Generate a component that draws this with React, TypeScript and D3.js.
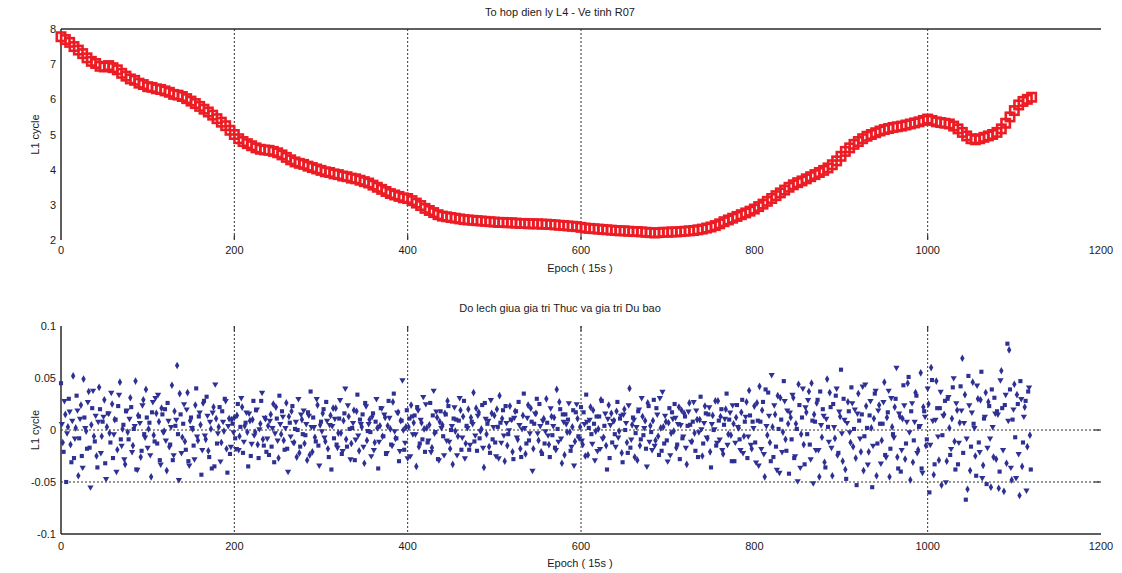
import React from 'react';
import * as d3 from 'd3';

const W = 1122, H = 573;
const xTicks = [0, 200, 400, 600, 800, 1000, 1200];
const gridEpochs = [200, 400, 600, 1000];
const topYTicks = [2, 3, 4, 5, 6, 7, 8];
const botYTicks = [-0.1, -0.05, 0, 0.05, 0.1];
const botHLines = [0, -0.05];
const topTitle = 'To hop dien ly L4 - Ve tinh R07';
const botTitle = 'Do lech giua gia tri Thuc va gia tri Du bao';
const xLabel = 'Epoch ( 15s )';
const yLabel = 'L1 cycle';

// L4 combination, one value every 5 epochs from 0 to 1120
const topStep = 5;
const topValues = [
  7.78, 7.70, 7.62, 7.50, 7.40, 7.30, 7.18, 7.08, 7.02, 6.94, 6.92, 6.96, 6.90, 6.84, 6.74, 6.66, 6.58, 6.54, 6.46, 6.42,
  6.36, 6.34, 6.30, 6.28, 6.24, 6.20, 6.14, 6.12, 6.08, 6.02, 5.95, 5.88, 5.80, 5.72, 5.64, 5.55, 5.45, 5.35, 5.25, 5.12, 5.00,
  4.88, 4.80, 4.74, 4.68, 4.62, 4.58, 4.56, 4.55, 4.52, 4.48, 4.42, 4.35, 4.28, 4.22, 4.18, 4.15, 4.10, 4.06, 4.02, 3.98,
  3.94, 3.92, 3.88, 3.86, 3.82, 3.80, 3.76, 3.74, 3.70, 3.66, 3.62, 3.56, 3.50, 3.44, 3.38, 3.32, 3.28, 3.24, 3.20, 3.18,
  3.12, 3.05, 2.98, 2.90, 2.84, 2.78, 2.72, 2.68, 2.66, 2.64, 2.62, 2.60, 2.58, 2.57, 2.56, 2.55, 2.54, 2.53, 2.52, 2.51,
  2.50, 2.50, 2.49, 2.49, 2.48, 2.47, 2.47, 2.46, 2.46, 2.46, 2.45, 2.45, 2.44, 2.43, 2.42, 2.41, 2.40, 2.39, 2.38, 2.36,
  2.34, 2.33, 2.32, 2.31, 2.30, 2.29, 2.28, 2.27, 2.26, 2.26, 2.25, 2.24, 2.24, 2.23, 2.22, 2.21, 2.20, 2.21, 2.22, 2.22,
  2.23, 2.23, 2.24, 2.25, 2.26, 2.27, 2.29, 2.31, 2.34, 2.37, 2.41, 2.46, 2.52, 2.57, 2.62, 2.67, 2.72, 2.77, 2.82, 2.88,
  2.95, 3.02, 3.10, 3.18, 3.26, 3.34, 3.42, 3.50, 3.57, 3.63, 3.68, 3.74, 3.80, 3.86, 3.92, 3.98, 4.05, 4.14, 4.25, 4.38,
  4.52, 4.62, 4.72, 4.80, 4.88, 4.95, 5.00, 5.05, 5.10, 5.14, 5.17, 5.20, 5.22, 5.24, 5.27, 5.30, 5.33, 5.36, 5.40, 5.44,
  5.40, 5.36, 5.34, 5.32, 5.30, 5.24, 5.16, 5.06, 4.96, 4.88, 4.85, 4.88, 4.92, 4.96, 5.00, 5.06, 5.16, 5.32, 5.50, 5.68,
  5.84, 5.94, 6.00, 6.06,
];

// Residuals (actual - predicted) at even epochs 0, 2, ..., 1118
const residualsEven = [
  .045, -.012, .028, -.050, .003, .018, -.031, .052, -.008, .033, -.044, .011, -.025, .049, .002, -.018, .037, -.055, .021, -.006,
  .014, -.036, .041, -.022, .008, .029, -.047, .016, -.003, .036, -.027, .010, -.040, .023, .046, -.015, .005, -.033, .019, -.009,
  .031, -.021, .001, .047, -.038, .013, -.026, .024, -.004, .039, -.017, .007, -.045, .027, -.011, .016, .034, -.029, .021, -.002,
  .020, -.039, .009, -.014, .043, -.024, .004, .062, -.048, .015, -.007, .025, -.019, .036, -.034, .012, .001, -.028, .040, -.010,
  .017, -.043, .026, -.005, .032, -.020, .008, -.037, .022, .044, -.013, .003, -.030, .018, -.001, .028, -.041, .011, -.016, .006,
  .012, -.018, .025, -.006, .031, -.022, .004, .017, -.035, .009, -.013, .028, -.002, .020, -.027, .006, .036, -.015, .011, -.008,
  -.024, .015, .002, -.031, .022, -.010, .033, -.004, .013, -.019, .026, -.040, .007, .018, -.012, .001, -.026, .030, -.016, .010,
  .019, -.005, -.029, .014, .037, -.021, .003, -.011, .024, -.034, .008, .016, -.007, .027, -.018, .005, -.038, .021, .011, -.014,
  -.003, .029, -.023, .009, .040, -.016, .013, -.028, .002, .019, -.009, .034, -.020, .006, .015, -.032, .023, -.001, .010, -.025,
  .016, -.012, .030, -.037, .004, .021, -.006, .012, -.022, .028, .001, -.015, .035, -.008, .017, -.030, .009, .048, -.019, .003,
  -.027, .011, .024, -.004, .014, -.035, .019, -.013, .007, .032, -.021, .002, -.010, .026, -.017, .038, -.002, .012, -.029, .018,
  .005, -.024, .015, .028, -.011, .000, -.033, .022, .010, -.006, .031, -.019, .013, -.027, .004, .020, -.014, .008, .036, -.005,
  -.020, .017, -.001, .024, -.036, .011, .006, -.016, .029, -.009, .014, -.025, .003, .033, -.012, .019, -.030, .007, -.004, .023,
  .010, -.028, .018, -.007, .027, -.018, .001, .035, -.023, .012, -.010, .021, -.039, .006, .016, -.003, .025, -.021, .009, -.013,
  .030, -.005, -.026, .013, .004, -.017, .039, -.011, .020, -.032, .008, .015, -.002, .026, -.020, .003, -.034, .017, .011, -.008,
  .022, -.014, .006, .034, -.024, .010, -.004, .019, -.029, .013, .001, -.018, .028, -.007, .016, -.038, .024, .005, -.012, .009,
  -.016, .027, -.001, .014, -.031, .020, .007, -.022, .040, -.009, .012, -.026, .003, .018, -.015, .031, -.005, .009, -.035, .023,
  .004, -.019, .029, -.010, .015, -.024, .002, .037, -.013, .008, -.030, .021, -.003, .011, .025, -.017, .006, -.028, .019, -.006,
  .013, -.033, .018, .005, -.011, .027, -.020, .010, -.002, .032, -.025, .007, .016, -.008, .022, -.036, .014, .001, -.015, .028,
  -.009, .020, -.023, .011, .035, -.004, .017, -.030, .006, -.012, .024, .002, -.019, .029, -.006, .013, -.027, .038, -.014, .008,
  .023, -.031, .009, .042, -.018, .027, -.045, .004, .036, -.012, .053, -.026, .015, -.038, .001, .031, -.021, .047, -.009, .019,
  -.042, .012, .034, -.027, .006, -.049, .024, -.004, .040, -.033, .017, .029, -.014, .045, -.051, .008, .026, -.019, .037, -.007,
  .014, -.036, .049, -.011, .022, -.044, .003, .033, -.024, .018, .058, -.030, .010, -.047, .027, -.002, .041, -.016, .020, -.053,
  .035, -.008, .015, -.039, .044, .002, -.021, .028, -.055, .011, .038, -.013, .024, -.032, .006, .046, -.026, .017, -.045, .031,
  -.004, .022, .060, -.037, .013, -.019, .043, -.028, .008, .051, -.048, .026, -.010, .036, -.022, .003, .055, -.041, .018, -.015,
  .040, -.060, .060, .009, -.033, .047, -.006, .021, -.053, .014, .028, -.030, .032, -.024, .011, .050, -.038, .019, -.012, .042,
  .069, .007, -.067, -.057, .024, -.016, .046, .002, -.044, .030, -.021, .056, -.034, .013, -.052, .027, -.008, .039, -.026, .016,
  .018, -.056, .048, .021, -.059, .034, .083, .077, -.036, .010, .044, -.046, .025, -.063, .030, -.012, .022, -.058, .037, -.005,
];

// Residuals at odd epochs 1, 3, ..., 1119
const residualsOdd = [
  .006, -.021, .015, -.003, .030, -.014, .009, -.027, .002, .019, -.008, .024, -.036, .012, -.001, .027, -.017, .005, .038, -.011,
  -.025, .008, .020, -.006, .013, -.032, .003, .016, -.012, .025, -.004, .010, -.019, .034, -.009, .001, -.028, .018, -.002, .011,
  .022, -.015, .004, -.038, .014, .007, -.020, .029, -.007, .012, .001, -.024, .017, -.005, .031, -.013, .008, -.033, .015, -.001,
  -.010, .026, -.016, .003, -.029, .018, .010, -.004, .035, -.022, .006, -.011, .020, -.030, .009, .002, -.015, .024, -.006, .013,
  .005, -.019, .028, -.009, .014, -.026, .001, .017, -.035, .011, -.003, .022, -.012, .008, .030, -.018, .004, -.023, .010, -.002,
  -.008, .014, -.019, .003, .022, -.011, .007, -.002, .016, -.025, .010, -.005, .019, -.014, .001, .028, -.009, .012, -.021, .004,
  .009, -.016, .025, -.003, .011, -.027, .006, .018, -.010, .002, -.018, .013, -.006, .023, -.012, .008, .000, -.022, .015, -.004,
  -.013, .006, .017, -.024, .003, .012, -.007, .030, -.015, .005, -.001, .020, -.011, .009, -.026, .014, .004, -.008, .021, -.017,
  .011, -.003, -.020, .016, -.009, .024, .001, -.013, .007, -.029, .018, -.005, .010, .003, -.016, .026, -.010, .006, -.002, .013,
  -.019, .008, .002, -.011, .021, -.006, .015, -.023, .004, .012, -.014, .027, -.001, -.008, .017, -.020, .009, .000, -.012, .019,
  .003, -.025, .013, .007, -.004, .022, -.016, .010, -.009, .001, .025, -.012, .005, -.021, .014, -.003, .018, -.028, .008, .002,
  -.006, .016, -.010, .023, -.018, .004, .011, -.001, -.024, .009, .019, -.007, .028, -.013, .002, -.019, .012, .006, -.011, .021,
  .014, -.008, .001, -.017, .026, -.004, .009, -.022, .016, .003, -.012, .020, -.027, .007, .011, -.005, .023, -.015, .000, .010,
  -.021, .012, .018, -.009, .005, -.026, .014, .002, -.013, .024, -.003, .008, -.018, .016, .030, -.010, .004, -.023, .011, -.001,
  .007, -.014, .021, -.005, .012, -.019, .001, .027, -.008, .015, -.024, .006, .010, -.002, -.016, .019, -.011, .025, -.006, .003,
  -.010, .017, -.025, .008, .002, .022, -.013, .006, -.001, -.020, .013, .029, -.008, .004, -.015, .011, -.027, .016, .009, -.004,
  .018, -.007, .011, -.022, .015, .000, -.012, .024, -.017, .005, .010, -.003, -.029, .020, -.009, .013, .002, -.018, .026, -.011,
  -.002, .009, -.015, .021, -.006, .031, -.020, .003, .014, -.010, .007, -.024, .017, -.001, .012, -.014, .022, .005, -.008, .016,
  -.017, .004, .026, -.011, .008, -.003, .019, -.026, .010, .001, -.013, .023, -.007, .015, -.021, .006, .000, .028, -.012, .009,
  .013, -.019, .005, .020, -.014, .010, -.005, .024, -.030, .012, .003, -.009, .017, -.022, .008, .027, -.006, .014, -.018, .002,
  -.012, .026, -.034, .008, .019, -.023, .039, -.005, .014, -.030, .003, .024, -.016, .033, -.041, .010, -.002, .028, -.020, .006,
  .017, -.009, .031, -.025, .001, .044, -.036, .012, -.014, .022, -.004, .037, -.028, .009, .015, -.019, .029, -.045, .005, .020,
  -.031, .011, .003, .036, -.017, .025, -.008, .040, -.022, .013, -.003, .030, -.038, .007, .018, -.012, .026, .001, -.027, .016,
  .009, -.021, .042, -.006, .023, -.033, .014, .002, -.015, .035, -.044, .019, .006, -.010, .027, -.024, .012, .038, -.018, .003,
  -.007, .030, -.026, .016, -.040, .011, .024, -.013, .045, -.002, .018, -.031, .008, .033, -.019, .004, -.037, .022, .013, -.009,
  .025, -.014, .048, -.043, .010, .021, -.029, .037, -.005, .015, -.050, .030, .002, -.018, .041, -.011, .026, -.033, .007, .019,
  -.022, .034, -.008, .052, -.039, .017, .006, -.025, .043, -.012, .029, -.046, .011, .036, -.017, .023, -.055, .003, .031, -.028,
  .015, -.040, .057, -.019, .024, -.032, .009, .039, -.048, .020, -.007, .034, -.023, .047, -.035, .013, .028, -.016, .041, -.038,
];

const RED = '#ec1c24';
const NAVY = '#2e3192';
const AX = '#2a2a2a';
const TXT = '#1a1a1a';
const FONT = 'Liberation Sans, Arial, sans-serif';

export default function App() {
  const x = d3.scaleLinear().domain([0, 1200]).range([61, 1101]);
  const yT = d3.scaleLinear().domain([2, 8]).range([240, 29]);
  const yB = d3.scaleLinear().domain([-0.1, 0.1]).range([534, 326]);
  const x0 = x(0), x1 = x(1200);
  const symbols = [d3.symbolSquare, d3.symbolDiamond, d3.symbolTriangle];
  const symPaths = symbols.map((s) => d3.symbol(s, 17)());
  const fmtB = (v: number) => (v === 0 ? '0' : String(+v.toFixed(2)));
  const pts = [
    ...residualsEven.map((v, i) => ({ e: i * 2, v })),
    ...residualsOdd.map((v, i) => ({ e: i * 2 + 1, v })),
  ];

  return (
    <svg width={W} height={H} style={{ position: 'absolute', left: 0, top: 0, background: '#fff' }} fontFamily={FONT}>
      <rect x={0} y={0} width={W} height={H} fill="#fff" />
      {/* ===== Top plot ===== */}
      <text x={560} y={16} textAnchor="middle" fontSize={11} fill={TXT}>{topTitle}</text>
      {gridEpochs.map((e) => (
        <g key={'tg' + e}>
          <line x1={x(e)} x2={x(e)} y1={yT(8)} y2={yT(2)} stroke="#333" strokeWidth={1} strokeDasharray="2,2" />
          <line x1={x(e)} x2={x(e)} y1={yT(2) - 5} y2={yT(2)} stroke="#333" strokeWidth={1.2} />
        </g>
      ))}
      <line x1={x0} x2={x1} y1={yT(8)} y2={yT(8)} stroke={AX} strokeWidth={1.5} />
      <line x1={x0} x2={x0} y1={yT(8)} y2={yT(2)} stroke={AX} strokeWidth={1.5} />
      {topYTicks.map((t) => (
        <text key={'ty' + t} x={56} y={yT(t) + 4} textAnchor="end" fontSize={11} fill={TXT}>{t}</text>
      ))}
      {xTicks.map((t) => (
        <text key={'tx' + t} x={x(t)} y={254} textAnchor="middle" fontSize={11} fill={TXT}>{t}</text>
      ))}
      <text x={580} y={272} textAnchor="middle" fontSize={11} fill={TXT}>{xLabel}</text>
      <text transform={`translate(39,${(yT(8) + yT(2)) / 2}) rotate(-90)`} textAnchor="middle" fontSize={11} fill={TXT}>{yLabel}</text>
      <g fill="none" stroke={RED} strokeWidth={2.6}>
        {topValues.map((v, i) => (
          <rect key={'tp' + i} x={x(i * topStep) - 4.2} y={yT(v) - 4.2} width={8.4} height={8.4} />
        ))}
      </g>

      {/* ===== Bottom plot ===== */}
      <text x={560} y={312} textAnchor="middle" fontSize={11} fill={TXT}>{botTitle}</text>
      {gridEpochs.map((e) => (
        <g key={'bg' + e}>
          <line x1={x(e)} x2={x(e)} y1={yB(0.1)} y2={yB(-0.1)} stroke="#333" strokeWidth={1} strokeDasharray="2,2" />
          <line x1={x(e)} x2={x(e)} y1={yB(0.1)} y2={yB(0.1) + 5} stroke="#333" strokeWidth={1.2} />
        </g>
      ))}
      {botHLines.map((h) => (
        <g key={'bh' + h}>
          <line x1={x0} x2={x1} y1={yB(h)} y2={yB(h)} stroke="#333" strokeWidth={1} strokeDasharray="2,2" />
          <line x1={x1 - 7} x2={x1} y1={yB(h)} y2={yB(h)} stroke="#333" strokeWidth={1.2} />
        </g>
      ))}
      <line x1={x0} x2={x1} y1={yB(-0.1)} y2={yB(-0.1)} stroke={AX} strokeWidth={1.5} />
      <line x1={x0} x2={x0} y1={yB(0.1)} y2={yB(-0.1)} stroke={AX} strokeWidth={1.5} />
      {botYTicks.map((t) => (
        <text key={'by' + t} x={56} y={yB(t) + 4} textAnchor="end" fontSize={11} fill={TXT}>{fmtB(t)}</text>
      ))}
      {xTicks.map((t) => (
        <text key={'bx' + t} x={x(t)} y={550} textAnchor="middle" fontSize={11} fill={TXT}>{t}</text>
      ))}
      <text x={580} y={567} textAnchor="middle" fontSize={11} fill={TXT}>{xLabel}</text>
      <text transform={`translate(39,${(yB(0.1) + yB(-0.1)) / 2}) rotate(-90)`} textAnchor="middle" fontSize={11} fill={TXT}>{yLabel}</text>
      <g fill={NAVY}>
        {pts.map((p, i) => (
          <path key={'bp' + i} d={symPaths[i % 3]} transform={`translate(${x(p.e)},${yB(p.v)})${i % 3 === 2 ? ' rotate(180)' : ''}`} />
        ))}
      </g>
    </svg>
  );
}
